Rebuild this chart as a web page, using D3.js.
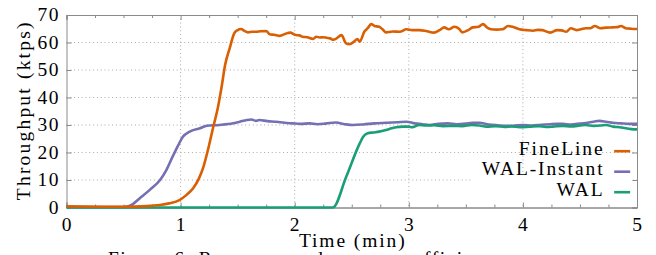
<!DOCTYPE html>
<html>
<head>
<meta charset="utf-8">
<script src="https://cdn.jsdelivr.net/npm/d3@7"></script>
<style>body { margin: 0; background: #fff; overflow: hidden; }</style>
</head>
<body>
<div id="chart"></div>
<script>
// Series: [minutes, ktps]
const fineLine = [
  [0, 0.4], [0.3, 0.3], [0.5, 0.3], [0.7, 0.5], [0.82, 0.9], [0.9, 1.5], [0.99, 2.7],
  [1.05, 4.5], [1.11, 7], [1.16, 10.5], [1.2, 14.8], [1.24, 21], [1.28, 28.2], [1.33, 37],
  [1.36, 44], [1.39, 51.8], [1.43, 57.9], [1.47, 63.3], [1.5, 64.5], [1.53, 64.9],
  [1.56, 64.2], [1.59, 63.7], [1.63, 63.9], [1.66, 63.9], [1.7, 64.1], [1.75, 64.2],
  [1.78, 63], [1.82, 62.8], [1.87, 62.4], [1.92, 63.2], [1.96, 63.6], [2.01, 62.7],
  [2.04, 62.6], [2.07, 62.1], [2.11, 61.9], [2.16, 61.3], [2.19, 62.1], [2.22, 61.8],
  [2.25, 61.9], [2.28, 61.7], [2.31, 61.5], [2.34, 61.0], [2.36, 61.3], [2.41, 62.7],
  [2.45, 59.7], [2.48, 59.4], [2.52, 60.3], [2.55, 61.3], [2.57, 60.3], [2.61, 63.9],
  [2.64, 65.2], [2.67, 66.7], [2.7, 66.0], [2.74, 65.7], [2.77, 64.8], [2.8, 63.7],
  [2.86, 64.0], [2.92, 63.9], [2.98, 64.8], [3.03, 64.5], [3.09, 64.5], [3.15, 64.2],
  [3.22, 63.6], [3.27, 64.5], [3.31, 65.5], [3.35, 64.8], [3.4, 65.7], [3.44, 65.0],
  [3.47, 63.7], [3.52, 64.5], [3.56, 65.5], [3.61, 65.7], [3.65, 66.7], [3.69, 65.3],
  [3.72, 64.8], [3.77, 64.7], [3.82, 64.8], [3.87, 66], [3.91, 65.7], [3.97, 64.8],
  [4.03, 64.5], [4.09, 64.3], [4.13, 64.6], [4.17, 64.5], [4.24, 63.6], [4.3, 64.5],
  [4.34, 64.4], [4.38, 63.9], [4.42, 65.2], [4.47, 64.5], [4.51, 64.8], [4.55, 65.2],
  [4.59, 65.2], [4.63, 66.0], [4.68, 65.2], [4.73, 65.4], [4.79, 65.5], [4.83, 65.6],
  [4.86, 66.0], [4.9, 65.2], [4.95, 65.0], [5.0, 64.9]
];

const walInstant = [
  [0, 0.2], [0.5, 0.2], [0.525, 0.3], [0.57, 0.9], [0.64, 3.3], [0.73, 6.4], [0.82, 10],
  [0.875, 13.6], [0.93, 18.5], [0.98, 22.7], [1.02, 25.7], [1.08, 27.6], [1.17, 28.8],
  [1.23, 29.7], [1.34, 30], [1.46, 30.6], [1.52, 31.2], [1.58, 31.8], [1.62, 32],
  [1.66, 31.5], [1.69, 31.8], [1.76, 31.4], [1.84, 31.2], [1.91, 30.8], [1.98, 30.6],
  [2.05, 30.4], [2.13, 30.6], [2.2, 30.3], [2.28, 30.6], [2.36, 30.9], [2.44, 30.3],
  [2.51, 30], [2.6, 30.2], [2.7, 30.6], [2.8, 30.8], [2.9, 31], [2.98, 31.2], [3.05, 30.6],
  [3.12, 30.3], [3.18, 30], [3.26, 30.4], [3.34, 30.6], [3.42, 30.3], [3.5, 30.5],
  [3.56, 30.8], [3.62, 30.8], [3.7, 30.2], [3.78, 29.9], [3.85, 29.7], [3.91, 29.7],
  [4.0, 30], [4.08, 29.8], [4.16, 30.1], [4.24, 30.3], [4.3, 30.4], [4.35, 30.4],
  [4.42, 30.2], [4.5, 30.5], [4.58, 30.9], [4.63, 31.3], [4.67, 31.5], [4.73, 31.2],
  [4.79, 30.8], [4.86, 30.6], [4.93, 30.4], [5.0, 30.4]
];

const wal = [
  [0, 0], [2.335, 0], [2.45, 11], [2.57, 23.3], [2.6, 25.7], [2.64, 27], [2.69, 27.3],
  [2.74, 27.6], [2.8, 28.2], [2.85, 28.8], [2.89, 29.2], [2.95, 29.4], [3.0, 29.4],
  [3.03, 29.2], [3.09, 30], [3.15, 29.8], [3.22, 29.9], [3.3, 29.6], [3.39, 29.7],
  [3.47, 29.6], [3.55, 30], [3.62, 29.8], [3.68, 29.4], [3.76, 29.6], [3.84, 29.3],
  [3.9, 29.5], [3.97, 29.2], [4.06, 29.4], [4.14, 29.6], [4.2, 29.3], [4.26, 29.4],
  [4.35, 29.7], [4.42, 29.5], [4.5, 29.8], [4.55, 30], [4.62, 29.7], [4.68, 29.8],
  [4.73, 30], [4.79, 29.4], [4.85, 29.2], [4.9, 28.8], [4.95, 28.5], [5.0, 28.4]
];

const seriesNames = ["FineLine", "WAL-Instant", "WAL"];
const seriesColors = ["#d95f02", "#7570b3", "#1b9e77"];
const xTicks = [0, 1, 2, 3, 4, 5];
const yTicks = [0, 10, 20, 30, 40, 50, 60, 70];

const W = 656, H = 255;
const margin = { top: 15, right: 19, bottom: 47.5, left: 66.5 };
const width = W - margin.left - margin.right;
const height = H - margin.top - margin.bottom;
const FS = 19.5;

const svg = d3.select("#chart")
  .append("svg")
  .attr("width", W)
  .attr("height", H);

const g = svg.append("g")
  .attr("transform", `translate(${margin.left},${margin.top})`);

const x = d3.scaleLinear().domain([0, 5]).range([0, width]);
const y = d3.scaleLinear().domain([0, 70]).range([height, 0]);

// Dotted grid
g.append("g")
  .selectAll("line")
  .data(xTicks.slice(1, -1))
  .join("line")
  .attr("x1", d => x(d)).attr("x2", d => x(d))
  .attr("y1", 0).attr("y2", height)
  .attr("stroke", "#aaa")
  .attr("stroke-dasharray", "1,2.8");

g.append("g")
  .selectAll("line")
  .data(yTicks.slice(1, -1))
  .join("line")
  .attr("x1", 0).attr("x2", width)
  .attr("y1", d => y(d)).attr("y2", d => y(d))
  .attr("stroke", "#aaa")
  .attr("stroke-dasharray", "1,2.8");

// Axes with inward ticks
const minorX = d3.range(0, 5.001, 0.25).filter(d => Math.abs(d - Math.round(d)) > 0.01);

const xAxis = g.append("g")
  .attr("transform", `translate(0,${height})`)
  .call(d3.axisBottom(x).tickValues(xTicks).tickSize(-5).tickPadding(10).tickFormat(d3.format("d")));

g.append("g")
  .attr("transform", `translate(0,${height})`)
  .call(d3.axisBottom(x).tickValues(minorX).tickSize(-3).tickFormat(""));

g.append("g")
  .call(d3.axisTop(x).tickValues(xTicks).tickSize(-5).tickFormat(""));

g.append("g")
  .call(d3.axisTop(x).tickValues(minorX).tickSize(-3).tickFormat(""));

const yAxis = g.append("g")
  .call(d3.axisLeft(y).tickValues(yTicks).tickSize(-5).tickPadding(6.5));

g.append("g")
  .attr("transform", `translate(${width},0)`)
  .call(d3.axisRight(y).tickValues(yTicks).tickSize(-5).tickFormat(""));

g.selectAll(".domain, .tick line")
  .attr("stroke", "#8a8a8a")
  .attr("stroke-width", 1);

// drop the axis default font so nothing falls back to sans-serif
g.selectAll("g").attr("font-family", null).attr("font-size", null);

xAxis.selectAll(".tick text")
  .attr("font-size", FS)
  .attr("letter-spacing", "1px");

yAxis.selectAll(".tick text")
  .attr("font-size", FS)
  .attr("letter-spacing", "1.5px")
  .attr("dy", "0.3em");

// Lines
const line = d3.line()
  .x(d => x(d[0]))
  .y(d => y(d[1]))
  .curve(d3.curveMonotoneX);

[[walInstant, 1], [wal, 2], [fineLine, 0]].forEach(([s, idx]) => {
  g.append("path")
    .datum(s)
    .attr("fill", "none")
    .attr("stroke", seriesColors[idx])
    .attr("stroke-width", 2.6)
    .attr("stroke-linejoin", "round")
    .attr("d", line);
});

// Legend
const legend = g.append("g");
legend.append("rect")
  .attr("x", x(3.55))
  .attr("y", y(12.9))
  .attr("width", x(4.96) - x(3.55))
  .attr("height", y(1.9) - y(12.9))
  .attr("fill", "#fff");

seriesNames.forEach((name, i) => {
  const by = y(19.2) + i * 20.5;
  legend.append("text")
    .attr("x", x(4.715))
    .attr("y", by)
    .attr("text-anchor", "end")
    .attr("font-size", FS)
    .attr("letter-spacing", "1.9px")
    .text(name);
  legend.append("line")
    .attr("x1", x(4.8)).attr("x2", x(4.94))
    .attr("y1", by - 3.5).attr("y2", by - 3.5)
    .attr("stroke", seriesColors[i])
    .attr("stroke-width", 2.6);
});

// Axis labels
svg.append("text")
  .attr("x", margin.left + width / 2 + 1)
  .attr("y", 247)
  .attr("text-anchor", "middle")
  .attr("font-size", FS)
  .attr("letter-spacing", "1.9px")
  .text("Time (min)");

svg.append("text")
  .attr("transform", `translate(30,${margin.top + height / 2 - 1}) rotate(-90)`)
  .attr("text-anchor", "middle")
  .attr("font-size", FS)
  .attr("letter-spacing", "2.2px")
  .text("Throughput (ktps)");

// Caption (cut off by the window edge)
svg.append("text")
  .attr("x", 108)
  .attr("y", 265)
  .attr("font-size", FS)
  .attr("letter-spacing", "1.5px")
  .text("Figure 6: Recovery and ramp-up efficiency");

// Serif face on every label
svg.selectAll("text")
  .attr("font-family", "Liberation Serif")
  .style("font-family", '"Liberation Serif"');
</script>
</body>
</html>
